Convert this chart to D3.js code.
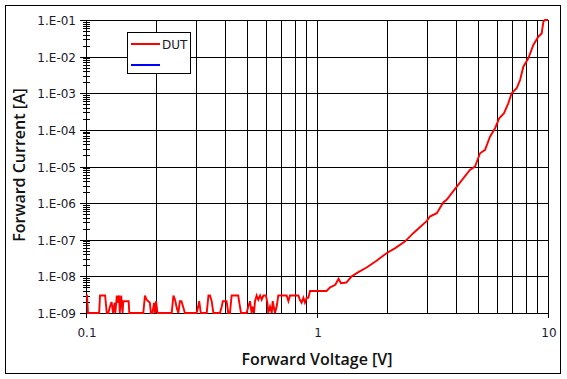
<!DOCTYPE html>
<html>
<head>
<meta charset="utf-8">
<script src="https://cdn.jsdelivr.net/npm/d3@7"></script>
<style>
  body { margin: 0; background: #fff; }
  svg { display: block; }
  text { font-family: "Open Sans", "DejaVu Sans", sans-serif; fill: #111; }
  text.tick { font-family: "DejaVu Sans", sans-serif; fill: #1a1a2a; }
</style>
</head>
<body>
<svg id="chart" width="567" height="379"></svg>
<script>
// ---- data ----
const voltage = [
  0.100, 0.101, 0.102, 0.114, 0.115, 0.117, 0.121, 0.123,
  0.125, 0.127, 0.129, 0.131, 0.133, 0.134, 0.136, 0.137, 0.139, 0.140, 0.142, 0.144, 0.145, 0.153, 0.154,
  0.177, 0.180, 0.183, 0.186, 0.189, 0.191, 0.194, 0.197, 0.199, 0.201, 0.204,
  0.235, 0.239, 0.243, 0.247, 0.251, 0.255, 0.259, 0.264, 0.268,
  0.301, 0.306, 0.309, 0.314, 0.333, 0.339, 0.344, 0.350, 0.356,
  0.380, 0.387, 0.391, 0.406, 0.413, 0.420, 0.427, 0.456, 0.461, 0.469,
  0.496, 0.504, 0.513, 0.521, 0.527, 0.534, 0.539, 0.548, 0.557, 0.567, 0.576, 0.586, 0.601, 0.610, 0.615,
  0.626, 0.637, 0.643, 0.658, 0.669, 0.680, 0.692, 0.739, 0.752, 0.764, 0.830, 0.843, 0.858, 0.873, 0.887,
  0.902, 0.917, 0.933, 1.10, 1.14, 1.20, 1.24, 1.27, 1.34, 1.41, 1.51, 1.64, 1.81, 2.00, 2.18, 2.40,
  2.61, 2.99, 3.08, 3.30, 3.52, 3.64, 4.03, 4.59, 4.83, 5.08, 5.34, 5.61, 5.90, 6.15, 6.45, 6.73,
  6.96, 7.32, 7.57, 7.82, 8.22, 8.64, 9.08, 9.39, 9.55, 9.70, 10.0
];
const current = [
  3.0e-9, 3.0e-9, 1e-9, 1e-9, 3.0e-9, 3.0e-9, 3.0e-9, 1e-9,
  1e-9, 1.5e-9, 2.0e-9, 1e-9, 1.9e-9, 1e-9, 3.0e-9, 1.9e-9, 3.0e-9, 1e-9, 3.0e-9, 1e-9, 2.1e-9, 2.1e-9, 1e-9,
  1e-9, 3.0e-9, 2.3e-9, 2.1e-9, 1.9e-9, 1e-9, 1e-9, 1.9e-9, 1e-9, 2.1e-9, 1e-9,
  1e-9, 3.0e-9, 2.3e-9, 1.4e-9, 1e-9, 2.1e-9, 2.1e-9, 1.4e-9, 1e-9,
  1e-9, 1.5e-9, 2.1e-9, 1e-9, 1e-9, 3.0e-9, 3.0e-9, 2.1e-9, 1e-9,
  1e-9, 1.5e-9, 2.1e-9, 2.1e-9, 1e-9, 1e-9, 3.0e-9, 3.0e-9, 1.9e-9, 1e-9,
  1e-9, 1.5e-9, 2.1e-9, 1e-9, 1.5e-9, 1e-9, 2.1e-9, 3.0e-9, 2.3e-9, 3.0e-9, 2.3e-9, 3.0e-9, 3.0e-9, 1.9e-9, 1e-9,
  1.5e-9, 1e-9, 2.1e-9, 1e-9, 1.5e-9, 3.0e-9, 3.0e-9, 3.0e-9, 2.1e-9, 3.0e-9, 3.0e-9, 2.3e-9, 1.9e-9, 2.6e-9, 1.9e-9,
  2.6e-9, 2.6e-9, 4.0e-9, 4.0e-9, 5.0e-9, 5.9e-9, 8.6e-9, 6.5e-9, 6.8e-9, 9.9e-9, 1.31e-8, 1.75e-8, 2.66e-8, 4.3e-8, 5.9e-8, 8.9e-8,
  1.51e-7, 3.28e-7, 4.3e-7, 5.3e-7, 1.04e-6, 1.23e-6, 2.83e-6, 8.1e-6, 9.9e-6, 2.3e-5, 2.84e-5, 6.5e-5, 1.11e-4, 2.08e-4, 2.85e-4, 5.3e-4,
  1.0e-3, 1.37e-3, 2.3e-3, 5.3e-3, 9.0e-3, 2.08e-2, 3.5e-2, 4.3e-2, 9.0e-2, 1.0e-1, 1.0e-1
];
const xTickLabels = ["0.1", "1", "10"];
const yTickLabels = ["1.E-09","1.E-08","1.E-07","1.E-06","1.E-05","1.E-04","1.E-03","1.E-02","1.E-01"];
const seriesNames = ["DUT", ""];
const seriesColors = ["#ff0000", "#0000ff"];

// ---- chart ----
const svg = d3.select("#chart");
const x = d3.scaleLog().domain([0.1, 10]).range([86, 548]);
const y = d3.scaleLog().domain([1e-9, 1e-1]).range([313, 20]);

// outer frame
svg.append("rect").attr("x", 5.5).attr("y", 5.5).attr("width", 555).attr("height", 368)
  .attr("fill", "none").attr("stroke", "#000").attr("stroke-width", 1);

const g = svg.append("g").attr("shape-rendering", "crispEdges");

// x gridlines (all 1..9 multiples)
const xGrid = [];
[0.1, 1].forEach(d => { for (let k = 1; k <= 9; k++) xGrid.push(d * k); });
xGrid.push(10);
g.selectAll(".xg").data(xGrid).join("line")
  .attr("x1", d => Math.round(x(d)) + 0.5).attr("x2", d => Math.round(x(d)) + 0.5)
  .attr("y1", y(1e-1)).attr("y2", y(1e-9))
  .attr("stroke", "#000").attr("stroke-width", 1);
// major x ticks below axis
g.selectAll(".xt").data([0.1, 1, 10]).join("line")
  .attr("x1", d => Math.round(x(d)) + 0.5).attr("x2", d => Math.round(x(d)) + 0.5)
  .attr("y1", y(1e-9)).attr("y2", y(1e-9) + 5)
  .attr("stroke", "#000");

// y major gridlines
const yMajor = d3.range(-9, 0).map(e => Math.pow(10, e));
g.selectAll(".yg").data(yMajor).join("line")
  .attr("x1", x(0.1) - 6).attr("x2", x(10) + 1)
  .attr("y1", d => Math.round(y(d)) + 0.5).attr("y2", d => Math.round(y(d)) + 0.5)
  .attr("stroke", "#000");
// y minor ticks
const yMinor = [];
d3.range(-9, -1).forEach(e => { for (let k = 2; k <= 9; k++) yMinor.push(k * Math.pow(10, e)); });
g.selectAll(".ym").data(yMinor).join("line")
  .attr("x1", x(0.1) - 3).attr("x2", x(0.1) + 4)
  .attr("y1", d => Math.round(y(d)) + 0.5).attr("y2", d => Math.round(y(d)) + 0.5)
  .attr("stroke", "#000");

// y axis line
g.append("line").attr("x1", Math.round(x(0.1)) + 0.5).attr("x2", Math.round(x(0.1)) + 0.5)
  .attr("y1", y(1e-1)).attr("y2", y(1e-9)).attr("stroke", "#000");

// tick labels
svg.selectAll(".yl").data(yMajor.concat([1e-1])).join("text")
  .attr("class", "tick")
  .attr("x", 76).attr("y", d => y(d) + 5)
  .attr("text-anchor", "end").attr("font-size", 12)
  .text((d, i) => yTickLabels[i]);
svg.selectAll(".xl").data([0.1, 1, 10]).join("text")
  .attr("class", "tick")
  .attr("x", d => x(d) + 1).attr("y", 337)
  .attr("text-anchor", "middle").attr("font-size", 12)
  .text((d, i) => xTickLabels[i]);

// axis titles
svg.append("text").attr("x", 317).attr("y", 365).attr("text-anchor", "middle")
  .attr("font-size", 16).attr("font-weight", 600).text("Forward Voltage [V]");
svg.append("text").attr("transform", "translate(25,165) rotate(-90)").attr("text-anchor", "middle")
  .attr("font-size", 16).attr("font-weight", 600).text("Forward Current [A]");

// data line
const line = d3.line().x((d, i) => x(voltage[i])).y(d => y(d));
svg.append("path").datum(current).attr("d", line)
  .attr("fill", "none").attr("stroke", seriesColors[0]).attr("stroke-width", 1.9)
  .attr("stroke-linejoin", "miter");

// legend
const lg = svg.append("g");
lg.append("rect").attr("x", 127.5).attr("y", 32.5).attr("width", 63).attr("height", 41)
  .attr("fill", "#fff").attr("stroke", "#000").attr("shape-rendering", "crispEdges");
seriesNames.forEach((n, i) => {
  const yy = 44 + i * 21;
  lg.append("line").attr("x1", 131).attr("x2", 160).attr("y1", yy).attr("y2", yy)
    .attr("stroke", seriesColors[i]).attr("stroke-width", 2);
  lg.append("text").attr("class", "tick").attr("x", 162).attr("y", yy + 4.5).attr("font-size", 12).text(n);
});
</script>
</body>
</html>
